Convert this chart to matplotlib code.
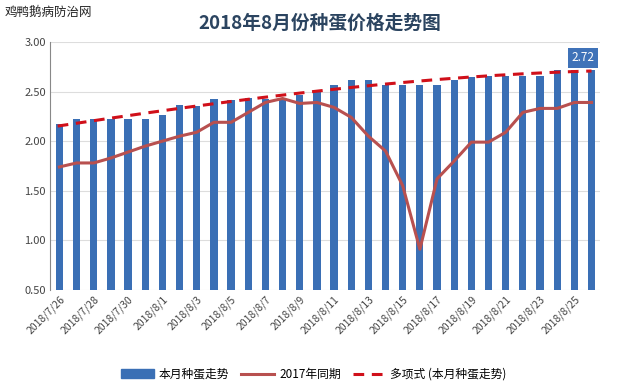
import numpy as np
import matplotlib
matplotlib.use("Agg")
import matplotlib.pyplot as plt
from matplotlib.patches import Patch
from matplotlib.lines import Line2D

plt.rcParams['font.family'] = ['Noto Sans CJK SC', 'DejaVu Sans']

dates = ["2018/7/26", "2018/7/27", "2018/7/28", "2018/7/29", "2018/7/30", "2018/7/31",
         "2018/8/1", "2018/8/2", "2018/8/3", "2018/8/4", "2018/8/5", "2018/8/6",
         "2018/8/7", "2018/8/8", "2018/8/9", "2018/8/10", "2018/8/11", "2018/8/12",
         "2018/8/13", "2018/8/14", "2018/8/15", "2018/8/16", "2018/8/17", "2018/8/18",
         "2018/8/19", "2018/8/20", "2018/8/21", "2018/8/22", "2018/8/23", "2018/8/24",
         "2018/8/25", "2018/8/26"]
price_2018 = [2.17, 2.22, 2.22, 2.22, 2.22, 2.22, 2.26, 2.36, 2.35, 2.42, 2.41, 2.43,
              2.42, 2.43, 2.47, 2.52, 2.57, 2.62, 2.62, 2.57, 2.57, 2.57, 2.57, 2.62,
              2.65, 2.66, 2.66, 2.66, 2.66, 2.72, 2.72, 2.72]
price_2017 = [1.74, 1.78, 1.78, 1.83, 1.89, 1.95, 2.00, 2.05, 2.09, 2.19, 2.19, 2.29,
              2.39, 2.43, 2.38, 2.39, 2.34, 2.24, 2.05, 1.90, 1.55, 0.91, 1.62, 1.80,
              1.99, 1.99, 2.09, 2.29, 2.33, 2.33, 2.39, 2.39]
yticks = [0.50, 1.00, 1.50, 2.00, 2.50, 3.00]

title = "2018年8月份种蛋价格走势图"
source = "鸡鸭鹅病防治网"
legend_labels = ["本月种蛋走势", "2017年同期", "多项式 (本月种蛋走势)"]

bar_color = "#3A6FB5"
line_color = "#B8504F"
trend_color = "#D0101A"

fig = plt.figure(figsize=(6.28, 3.85), dpi=100)
ax = fig.add_axes([0.0796, 0.247, 0.876, 0.644])

x = np.arange(len(dates))
ax.bar(x, price_2018, width=0.42, color=bar_color, zorder=2)
ax.plot(x, price_2017, color=line_color, lw=2.2, zorder=3)

coef = np.polyfit(x, price_2018, 3)
xt = np.linspace(-0.1, x[-1], 200)
ax.plot(xt, np.polyval(coef, xt), color=trend_color, lw=2.2, ls=(0, (3.5, 2.5)), zorder=4)

ax.set_ylim(0.5, 3.0)
ax.set_xlim(-0.55, 31.5)
ax.set_yticks(yticks)
ax.set_yticklabels([f"{v:.2f}" for v in yticks], fontsize=8, color="#444444")
ax.set_xticks(x[::2])
ax.set_xticklabels(dates[::2], rotation=45, ha="right", rotation_mode="anchor",
                   fontsize=7.5, color="#444444")
ax.tick_params(axis="both", length=0, pad=3)
ax.grid(axis="y", color="#DDDDDD", lw=0.8, zorder=0)
for s in ["top", "right", "bottom"]:
    ax.spines[s].set_visible(False)
ax.spines["left"].set_color("#888888")
ax.spines["left"].set_linewidth(0.8)

ax.text(x[-1] - 0.5, price_2018[-1] + 0.12, f"{price_2018[-1]:.2f}", color="white",
        fontsize=8.5, ha="center", va="center",
        bbox=dict(boxstyle="square,pad=0.3", fc="#3F72B8", ec="none"), zorder=5)

fig.text(0.51, 0.94, title, fontsize=13.5, fontweight="bold", color="#2B4460",
         ha="center", va="center")
fig.text(0.008, 0.968, source, fontsize=9, color="#222222", ha="left", va="center")

handles = [Patch(color=bar_color),
           Line2D([0], [0], color=line_color, lw=2.2),
           Line2D([0], [0], color=trend_color, lw=2.2, ls=(0, (3.5, 2.5)))]
fig.legend(handles, legend_labels, loc="center", bbox_to_anchor=(0.5, 0.028), ncol=3,
           frameon=False, fontsize=8.5, handlelength=2.8, columnspacing=1.0,
           handletextpad=0.4)

fig.savefig("out.png", dpi=100)
